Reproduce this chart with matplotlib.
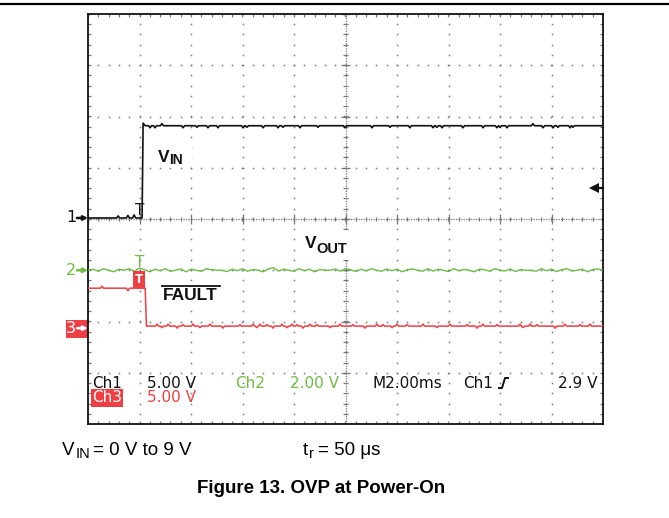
import matplotlib.pyplot as plt
import numpy as np
from matplotlib.lines import Line2D
from matplotlib.patches import Rectangle

W, H = 669, 518

# Scope settings
t_start, t_div = -2.0, 2.0          # ms, ms/div
ch1_scale, ch2_scale, ch3_scale = 5.0, 2.0, 5.0      # V/div
ch1_ground, ch2_ground, ch3_ground = 0.02, -1.0, -2.13  # div from centre
trig_level = 2.9                    # V on Ch1

# VIN (Ch1): step, plus small dips / spikes
ch1_t = [-2.0, 0.10, 0.14, 0.22, 18.0]
ch1_v = [0.0, 0.0, 9.25, 9.0, 9.0]
ch1_glitch_t = [-0.83, -0.45, -0.21, 0.41, 0.60, 0.87, 1.69, 2.23, 2.66, 3.05,
                4.02, 4.17, 4.80, 5.38, 5.57, 6.23, 6.93, 7.98, 9.03, 9.73,
                10.50, 11.40, 11.55, 11.75, 12.56, 13.34, 13.88, 14.00, 14.27,
                15.28, 15.67, 16.06, 16.25, 16.72, 16.83]
ch1_glitch_v = [0.2, 0.25, 0.3, -0.2, -0.2, 0.2, -0.2, -0.15, -0.2, -0.2,
                -0.2, -0.15, -0.2, -0.2, -0.15, -0.2, -0.15, -0.2, -0.2, -0.15,
                -0.2, -0.2, -0.15, -0.2, -0.2, -0.2, -0.2, -0.15, -0.2,
                0.2, -0.2, -0.2, -0.15, -0.2, -0.15]

# VOUT (Ch2): samples every 0.2 ms
ch2_v = [0.00, 0.04, -0.04, 0.06, 0.00, -0.06, 0.04, 0.00, 0.06, -0.04,
         0.08, 0.02, -0.06, 0.04, -0.02, 0.06, -0.04, 0.00, 0.05, -0.06,
         0.04, 0.00, -0.04, 0.06, 0.02, 0.00, 0.00, -0.05, 0.04, -0.02,
         0.06, -0.04, 0.03, 0.00, -0.06, 0.05, 0.10, -0.03, 0.04, 0.00,
         -0.04, 0.06, -0.02, 0.04, -0.06, 0.03, 0.00, 0.00, 0.05, -0.04,
         0.06, 0.02, -0.05, 0.04, -0.03, 0.06, 0.00, -0.04, 0.05, -0.02,
         0.04, -0.06, 0.02, 0.05, 0.00, -0.04, 0.06, -0.03, 0.04, 0.00,
         -0.05, 0.06, -0.02, 0.03, 0.00, -0.06, 0.04, 0.02, -0.04, 0.06,
         0.00, -0.03, 0.05, -0.05, 0.03, 0.00, 0.00, -0.04, 0.06, -0.02,
         0.04, -0.05, 0.02, 0.06, -0.03, 0.00, 0.04, -0.06, 0.03, 0.05,
         0.00]

# FAULT (Ch3)
ch3_t = [-2.0, 0.22, 0.27, 18.0]
ch3_v = [3.9, 3.9, 0.2, 0.2]
ch3_glitch_t = [-1.46, -0.45, 0.68, 0.87, 1.11, 1.46, 1.69, 2.08, 2.35, 2.74,
                3.24, 3.90, 4.41, 4.56, 4.68, 4.95, 5.18, 5.53, 5.73, 5.92,
                6.12, 6.35, 6.62, 6.89, 7.40, 7.79, 8.29, 8.76, 9.22, 9.46,
                9.81, 10.00, 10.39, 11.01, 11.55, 12.06, 12.72, 13.11, 13.34,
                13.88, 14.78, 14.89, 15.17, 15.44, 16.14, 16.52, 17.11, 17.50]
ch3_glitch_v = [0.2, -0.25, 0.2, -0.15, 0.2, -0.2, 0.15, 0.2, -0.15, 0.2,
                -0.2, 0.15, 0.2, -0.15, 0.2, 0.15, -0.2, 0.2, -0.15, 0.2,
                0.15, -0.2, 0.2, 0.15, -0.15, 0.2, 0.15, -0.2, 0.2, 0.15,
                -0.15, 0.2, 0.15, 0.2, -0.15, 0.2, 0.15, -0.2, 0.2,
                0.15, 0.2, -0.15, 0.2, 0.15, -0.2, 0.2, 0.15, 0.2]

BLACK = '#111111'
GREEN = '#6dbb45'
RED = '#ee3f45'
GRID = '#777777'


def with_glitches(t, v, gt, gv, w=0.06):
    tt, vv = list(t), list(v)
    for g, a in zip(gt, gv):
        b = np.interp(g, t, v)
        tt += [g - w, g, g + w]
        vv += [b, b + a, b]
    order = np.argsort(tt, kind='stable')
    return np.array(tt)[order], np.array(vv)[order]


def ftext(x, y, s, **kw):
    kw.setdefault('va', 'baseline')
    return fig.text(x / W, 1 - y / H, s, **kw)


fig = plt.figure(figsize=(W / 100, H / 100), dpi=100)
ax = fig.add_axes([88 / W, 1 - 424 / H, 515 / W, 410 / H])
ax.set_xlim(t_start, t_start + 10 * t_div)
ax.set_ylim(-4, 4)
ax.set_xticks([])
ax.set_yticks([])
for s in ax.spines.values():
    s.set_color(BLACK)
    s.set_linewidth(1.3)

# Graticule
minor_y = np.arange(-4, 4.001, 0.2)
minor_x = np.arange(t_start, t_start + 10 * t_div + 0.001, 0.4)
for k in range(1, 10):
    if k == 5:
        continue
    xv = t_start + k * t_div
    ax.plot(np.full_like(minor_y, xv), minor_y, ls='none', marker='s',
            ms=1.1, mew=0, color=GRID)
for j in range(-3, 4):
    if j == 0:
        continue
    ax.plot(minor_x, np.full_like(minor_x, j), ls='none', marker='s',
            ms=1.1, mew=0, color=GRID)

# Edge ticks
ax.hlines(minor_y, t_start, t_start + 0.12, color=GRID, lw=0.9)
ax.hlines(minor_y, 18 - 0.12, 18, color=GRID, lw=0.9)
ax.vlines(minor_x, -4, -4 + 0.06, color=GRID, lw=0.9)
ax.vlines(minor_x, 4 - 0.06, 4, color=GRID, lw=0.9)

# Centre crosshair
ax.plot([t_start, 18], [0, 0], ls=(0, (1, 1)), lw=0.9, color=GRID)
ax.plot([8, 8], [-4, 4], ls=(0, (1, 1)), lw=0.9, color=GRID)
ax.vlines(minor_x, -0.045, 0.045, color=GRID, lw=0.9)
ax.vlines(np.arange(t_start, 18.01, 2.0), -0.1, 0.1, color=GRID, lw=0.9)
ax.hlines(minor_y, 8 - 0.09, 8 + 0.09, color=GRID, lw=0.9)
ax.hlines(np.arange(-4, 4.01, 1.0), 8 - 0.18, 8 + 0.18, color=GRID, lw=0.9)

# Traces
t1, v1 = with_glitches(ch1_t, ch1_v, ch1_glitch_t, ch1_glitch_v)
ax.plot(t1, ch1_ground + v1 / ch1_scale, color=BLACK, lw=1.2, zorder=5)

t2 = np.linspace(t_start, 18.0, len(ch2_v))
ax.plot(t2, ch2_ground + np.array(ch2_v) / ch2_scale, color=GREEN, lw=1.0,
        zorder=5)

t3, v3 = with_glitches(ch3_t, ch3_v, ch3_glitch_t, ch3_glitch_v)
ax.plot(t3, ch3_ground + v3 / ch3_scale, color=RED, lw=1.1, zorder=5)

# Trigger marks at t = 0
y1_0 = ch1_ground + np.interp(0, ch1_t, ch1_v) / ch1_scale
y2_0 = ch2_ground
y3_0 = ch3_ground + np.interp(0, ch3_t, ch3_v) / ch3_scale
ax.text(0.0, y1_0, 'T', color=BLACK, fontsize=11, ha='center',
        va='bottom', zorder=6)
ax.text(0.0, y2_0, 'T', color=GREEN, fontsize=11, ha='center',
        va='bottom', zorder=6)
ax.text(-0.02, y3_0 + 0.05, 'T', color='white', fontsize=8.5, ha='center',
        va='bottom', fontweight='bold', zorder=6,
        bbox=dict(facecolor=RED, edgecolor='none', pad=1.5))

# Trigger level arrow at right edge
y_trig = ch1_ground + trig_level / ch1_scale
ax.plot([17.72, 18.0], [y_trig, y_trig], color=BLACK, lw=1.6, zorder=6,
        clip_on=False)
ax.plot([17.66], [y_trig], marker='<', ms=7.5, mew=0, color=BLACK,
        zorder=6, clip_on=False)

# Ground markers on the left
fig.add_artist(Rectangle((66 / W, 1 - 338 / H), 22 / W, 18 / H,
                         transform=fig.transFigure, facecolor=RED,
                         edgecolor='none', zorder=-1))
for lab, g, col in [('1', ch1_ground, BLACK), ('2', ch2_ground, GREEN),
                    ('3', ch3_ground, 'white')]:
    ax.annotate('', xy=(t_start, g), xytext=(-8, 0),
                textcoords='offset points', annotation_clip=False,
                arrowprops=dict(arrowstyle='-|>', color=col, lw=1.8,
                                mutation_scale=6, shrinkA=0, shrinkB=0))
    ax.annotate(lab, xy=(t_start, g), xytext=(-8.5, 0),
                textcoords='offset points', ha='right', va='center',
                color=col, fontsize=11.5, annotation_clip=False)

# Trace labels
lab_font = 'Liberation Sans'
for x0, y0, w0, h0 in [(152, 143, 40, 24), (300, 230, 56, 30),
                       (157, 281, 68, 24)]:
    fig.add_artist(Rectangle((x0 / W, 1 - (y0 + h0) / H), w0 / W, h0 / H,
                             transform=fig.transFigure, facecolor='white',
                             edgecolor='none', zorder=1))
ftext(158, 161.5, 'V', family=lab_font, fontweight='bold', fontsize=12.5,
      color=BLACK, zorder=3)
ftext(169.5, 163.5, 'IN', family=lab_font, fontweight='bold', fontsize=10,
      color=BLACK, zorder=3)
ftext(305, 248.5, 'V', family=lab_font, fontweight='bold', fontsize=12.5,
      color=BLACK, zorder=3)
ftext(316.5, 252.5, 'OUT', family=lab_font, fontweight='bold', fontsize=10.5,
      color=BLACK, zorder=3)
ftext(162.5, 300, 'FAULT', family=lab_font, fontweight='bold', fontsize=12.5,
      color=BLACK, zorder=3)
fig.add_artist(Line2D([162 / W, 220 / W], [1 - 285.5 / H] * 2,
                      color=BLACK, lw=1.3, zorder=3))

# Scope readouts
ro = dict(family='DejaVu Sans', fontsize=11, zorder=3)
ftext(92, 388, 'Ch1', color=BLACK, **ro)
ftext(147, 388, '5.00 V', color=BLACK, **ro)
ftext(235, 388, 'Ch2', color=GREEN, **ro)
ftext(290, 388, '2.00 V', color=GREEN, **ro)
ftext(373, 388, 'M2.00ms', color=BLACK, **ro)
ftext(463, 388, 'Ch1', color=BLACK, **ro)
ftext(598, 388, '2.9 V', color=BLACK, ha='right', **ro)
ftext(92, 402.5, 'Ch3', color='white',
      bbox=dict(facecolor=RED, edgecolor='none', pad=0.8), **ro)
ftext(147, 402.5, '5.00 V', color=RED, **ro)
# rising-edge slope symbol
fig.add_artist(Line2D(np.array([499, 502, 505, 508]) / W,
                      1 - np.array([388, 388, 378, 378]) / H,
                      color=BLACK, lw=1.4, zorder=3))

# Top rule
fig.add_artist(Line2D([0, 1], [1 - 4 / H] * 2, color='black', lw=1.6))

# Conditions and caption
ftext(62, 455, 'V', family=lab_font, fontsize=13.5, color='black')
ftext(75.5, 458.5, 'IN', family=lab_font, fontsize=10.5, color='black')
ftext(93, 455, '= 0 V to 9 V', family=lab_font, fontsize=13.5,
      color='black')
ftext(303, 455, 't', family=lab_font, fontsize=13.5, color='black')
ftext(309, 458.5, 'r', family=lab_font, fontsize=10.5, color='black')
ftext(318, 455, '= 50 \u03bcs', family=lab_font, fontsize=13.5,
      color='black')
ftext(321, 493, 'Figure 13. OVP at Power-On', family=lab_font,
      fontweight='bold', fontsize=13.5, ha='center', color='black')

fig.savefig('out.png', dpi=100)
